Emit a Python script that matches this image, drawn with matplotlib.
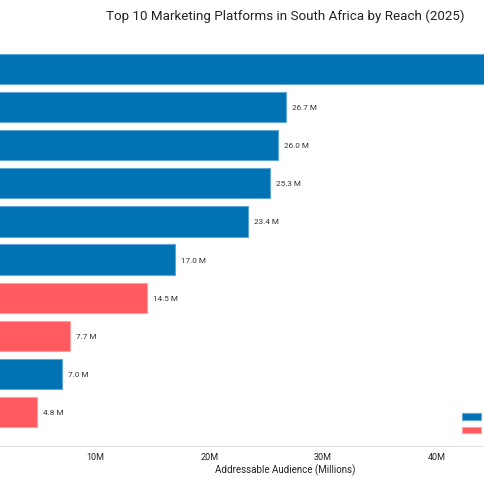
import matplotlib.pyplot as plt
from matplotlib.patches import Patch

platforms = ["WhatsApp", "YouTube", "Facebook", "TikTok", "Instagram",
             "Facebook Messenger", "Radio (SABC)", "Snapchat", "LinkedIn", "Print"]
reach = [48.4, 26.7, 26.0, 25.3, 23.4, 17.0, 14.5, 7.7, 7.0, 4.8]
groups = ["Digital", "Digital", "Digital", "Digital", "Digital",
          "Digital", "Traditional", "Traditional", "Digital", "Traditional"]
group_names = ["Digital", "Traditional"]
group_colors = {"Digital": "#0173B5", "Traditional": "#FF5A5F"}
edge_colors = {"Digital": "#5FA6D6", "Traditional": "#FF9EA1"}
xticks = [0, 10, 20, 30, 40, 50]
xtick_labels = ["0", "10M", "20M", "30M", "40M", "50M"]

plt.rcParams['font.family'] = ['Roboto', 'DejaVu Sans']

fig = plt.figure(figsize=(4.85, 4.85), dpi=100)
W = 485.0
# axes deliberately extends past the canvas on both sides
ax = fig.add_axes([-18 / W, (485 - 447) / W, 606 / W, 411 / W])

ypos = list(range(len(platforms)))
cols = [group_colors[g] for g in groups]
edges = [edge_colors[g] for g in groups]
bars = ax.barh(ypos, reach, height=0.79, color=cols, edgecolor=edges, linewidth=0.8)
ax.bar_label(bars, labels=["%.1f M" % v for v in reach], padding=4.3,
             fontsize=5.9, color="#333333")

ax.set_ylim(len(platforms) - 0.1, -0.9)
ax.set_xlim(0, 53.3)
ax.set_yticks(ypos)
ax.set_yticklabels(platforms, fontsize=7)
ax.set_xticks(xticks)
ax.set_xticklabels(xtick_labels)
ax.tick_params(axis='both', length=0, labelsize=6.5, colors="#222222", pad=4)
ax.set_xlabel("Addressable Audience (Millions)", fontsize=7, color="#222222", labelpad=2)
fig.text(285 / W, 1 - 16 / W, "Top 10 Marketing Platforms in South Africa by Reach (2025)",
         fontsize=9.6, color="#222222", ha="center", va="center")

for s in ["top", "right", "left"]:
    ax.spines[s].set_visible(False)
ax.spines["bottom"].set_color("#E0E0E0")
ax.spines["bottom"].set_linewidth(0.8)

handles = [Patch(facecolor=group_colors[g], edgecolor=edge_colors[g], linewidth=0.8)
           for g in group_names]
fig.legend(handles, group_names, loc="upper left",
           bbox_to_anchor=(462 / W, 1 - 413 / W), bbox_transform=fig.transFigure,
           frameon=False, fontsize=7, borderpad=0, borderaxespad=0,
           handlelength=1.95, handleheight=0.7, labelspacing=0.35, handletextpad=0.6)

fig.savefig("out.png", dpi=100)
